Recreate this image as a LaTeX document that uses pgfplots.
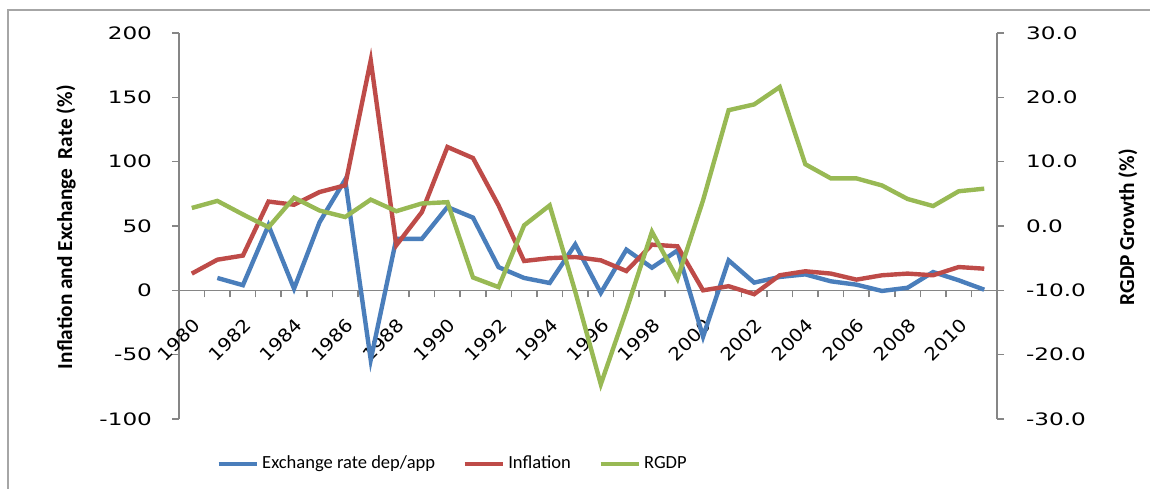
\documentclass[border=0pt]{standalone}
\usepackage{pgfplots}
\pgfplotsset{compat=1.18}
\usepackage{fontspec}
\setmainfont{Carlito}
\newfontfamily\tickfont[FakeStretch=1.35]{DejaVu Sans}
\newfontfamily\xtickfont[FakeStretch=1.1]{DejaVu Sans}
\definecolor{cblue}{HTML}{4A7EBB}
\definecolor{cred}{HTML}{BE4B48}
\definecolor{cgreen}{HTML}{98B954}
\definecolor{caxis}{HTML}{868686}
\pgfplotstableread{
i ex inf rg
0 nan 13 2.8
1 9.6 23.8 3.9
2 4 27 1.8
3 50.5 69 -0.2
4 1.3 66.5 4.4
5 53 76.4 2.4
6 86 81.6 1.4
7 -54 178.7 4.1
8 40 35 2.3
9 40 60.8 3.5
10 64.7 111.4 3.7
11 56.5 102.8 -8.0
12 18 66 -9.5
13 9.6 22.8 0.1
14 5.7 25 3.2
15 35.7 25.9 -10.2
16 -2 23.3 -24.6
17 31.6 15 -13.1
18 17.6 35.5 -0.9
19 31 34.2 -8.2
20 -36 0 4.0
21 23.3 3.2 18.0
22 6 -3 18.9
23 10.4 11.7 21.6
24 12.4 14.8 9.6
25 7 13 7.4
26 4.4 8.3 7.4
27 -0.5 11.7 6.3
28 2 13 4.2
29 14.2 11.7 3.1
30 7.8 18.1 5.4
31 0.5 16.8 5.8
}\data
\begin{document}
\begin{tikzpicture}[x=0.5bp,y=0.5bp]
\useasboundingbox (0,0) rectangle (1150,489);
\draw[color=gray!70, line width=0.8bp] (8,-5) -- (8,479) -- (1160,479);
\pgfplotsset{
  every axis/.append style={
    scale only axis, width=409bp, height=193bp,
    at={(89.5bp,35bp)}, anchor=south west,
    xmin=-0.5, xmax=31.5,
    tick label style={font=\tickfont\fontsize{8.6}{10}\selectfont, color=black},
    /pgf/number format/assume math mode=true,
    axis line style={color=caxis, line width=0.8bp, -},
    every tick/.style={color=caxis, line width=0.8bp},
    major tick length=3.5bp, minor tick length=3.5bp,
    tick align=outside,
    label style={font=\bfseries\fontsize{10.7}{12}\selectfont},
  }
}
\begin{axis}[
  ymin=-100, ymax=200,
  axis x line*=middle, axis y line*=left,
  ytick={-100,-50,...,200},
  yticklabel shift=6.5bp,
  xtick={0,2,...,30},
  xticklabels={1980,1982,1984,1986,1988,1990,1992,1994,1996,1998,2000,2002,2004,2006,2008,2010},
  minor xtick={-0.5,0.5,...,31.5},
  major x tick style={draw=none},
  xticklabel shift=5bp,
  x tick label style={rotate=45, anchor=north east, font=\xtickfont\fontsize{9}{10}\selectfont},
  ylabel={Inflation and Exchange\ \ Rate (\%)},
  ylabel style={at={(axis description cs:-0.138,0.497)}, anchor=center},
]
\addplot[cblue, line width=2.2bp, unbounded coords=jump] table[x=i,y=ex]{\data};
\addplot[cred, line width=2.2bp] table[x=i,y=inf]{\data};
\end{axis}
\begin{axis}[
  ymin=-30, ymax=30,
  axis y line*=right, axis x line=none,
  ytick={-30,-20,...,30},
  yticklabel shift=7.5bp,
  yticklabel style={/pgf/number format/.cd, fixed, fixed zerofill, precision=1},
  ylabel={RGDP Growth (\%)},
  ylabel style={at={(axis description cs:1.160,0.497)}, anchor=center, rotate=0},
  legend columns=3,
  legend style={at={(axis description cs:0.336,-0.1166)}, anchor=center, draw=none, fill=none,
    font=\fontsize{9.3}{11}\selectfont,
    /tikz/every even column/.append style={column sep=12bp}},
  legend image code/.code={\draw[#1, line width=1.6bp] (0bp,0bp) -- (19bp,0bp);},
]
\addlegendimage{cblue}
\addlegendentry{Exchange rate dep/app}
\addlegendimage{cred}
\addlegendentry{Inflation}
\addplot[cgreen, line width=2.2bp] table[x=i,y=rg]{\data};
\addlegendentry{RGDP}
\end{axis}
\end{tikzpicture}
\end{document}
